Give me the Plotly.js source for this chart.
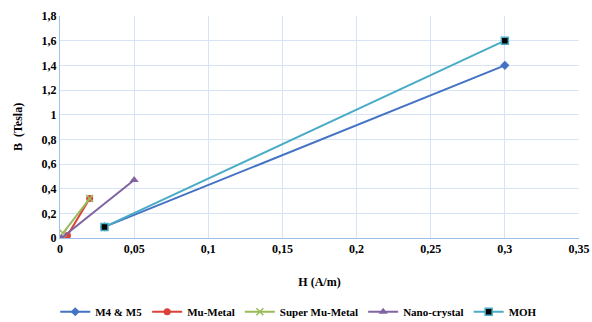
<!DOCTYPE html>
<html><head><meta charset="utf-8">
<script src="https://cdn.plot.ly/plotly-3.0.1.min.js"></script>
<style>html,body{margin:0;padding:0;background:#fff}#c{width:592px;height:322px}
#c svg text{font-family:'Liberation Serif',serif !important;}</style>
</head><body><div id="c"></div>
<script>
const seriesNames = ["M4 & M5", "Mu-Metal", "Super Mu-Metal", "Nano-crystal", "MOH"];
const m4x = [0.03, 0.3],   m4y = [0.09, 1.4];
const mux = [0.005, 0.02], muy = [0.02, 0.32];
const smx = [0.002, 0.02], smy = [0.04, 0.32];
const ncx = [0.001, 0.05], ncy = [0.0, 0.47];
const mohx = [0.03, 0.3],  mohy = [0.09, 1.6];

const F = "Liberation Serif, Times New Roman, serif";
const bf = (s) => ({family: F, size: s, color: "#000", weight: "bold"});
const traces = [
  {x: m4x, y: m4y, name: seriesNames[0], line: {color: "#4472c4", width: 2}, marker: {symbol: "diamond", size: 7, color: "#4472c4"}},
  {x: mux, y: muy, name: seriesNames[1], line: {color: "#d9413a", width: 2}, marker: {symbol: "circle", size: 7, color: "#d9413a"}},
  {x: smx, y: smy, name: seriesNames[2], line: {color: "#9bbb59", width: 2}, marker: {symbol: "x-thin", size: 7, line: {color: "#9bbb59", width: 1.5}}},
  {x: ncx, y: ncy, name: seriesNames[3], line: {color: "#8064a2", width: 2}, marker: {symbol: "triangle-up", size: 8, color: "#8064a2"}},
  {x: mohx, y: mohy, name: seriesNames[4], line: {color: "#4bacc6", width: 2}, marker: {symbol: "square", size: 7, color: "#000", line: {color: "#4bacc6", width: 1.5}}}
].map(t => Object.assign({type: "scatter", mode: "lines+markers"}, t));

const layout = {
  width: 592, height: 322,
  margin: {l: 60, r: 13, t: 16, b: 84},
  separators: ",.",
  paper_bgcolor: "#fff", plot_bgcolor: "#fff",
  font: {family: F, size: 12, color: "#000"},
  showlegend: true,
  legend: {orientation: "h", x: 0.46, xanchor: "center", yref: "container", y: 0.032, yanchor: "middle",
           font: bf(11), itemwidth: 30, tracegroupgap: 0},
  xaxis: {range: [0, 0.35], dtick: 0.05, tick0: 0, showgrid: true, gridcolor: "#d6e4f5",
          zeroline: false, showline: true, linecolor: "#9fc0e8", linewidth: 1, ticks: "",
          tickfont: bf(12), automargin: false,
          title: {text: "H (A/m)", font: bf(12), standoff: 22}},
  yaxis: {range: [0, 1.8], dtick: 0.2, tick0: 0, showgrid: true, gridcolor: "#d6e4f5",
          zeroline: false, showline: true, linecolor: "#9fc0e8", linewidth: 1, ticks: "",
          tickfont: bf(12), automargin: false,
          title: {text: "B  (Tesla)", font: bf(12), standoff: 16}}
};
Plotly.newPlot("c", traces, layout, {displayModeBar: false, staticPlot: true});
</script></body></html>
